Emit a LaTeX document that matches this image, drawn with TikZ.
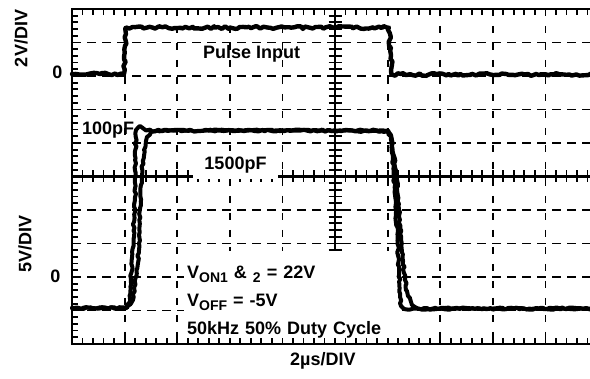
\documentclass[tikz,border=0pt]{standalone}
\usepackage{fontspec}
\setmainfont{Liberation Sans}
\usetikzlibrary{decorations.pathmorphing}
\newcommand{\dsub}[1]{\raisebox{-4.5pt}{\fontsize{14}{14}\selectfont #1}}

\begin{document}
\begin{tikzpicture}[x=1pt,y=-1pt,
	lbl/.style={font=\bfseries\fontsize{18}{28}\selectfont,inner sep=0pt},
	gridh/.style={line width=1.8pt,dash pattern=on 9pt off 6pt},
	gridv/.style={line width=1.8pt,dash pattern=on 7pt off 10pt},
	tickmark/.style={line width=1.8pt},
	border/.style={line width=2.6pt},
	trace/.style={line width=4.4pt,line join=round,line cap=round,decorate,decoration={random steps,segment length=3pt,amplitude=1.4pt}},
	outtrace/.style={line width=4pt,decoration={random steps,segment length=3pt,amplitude=1pt}}]
	\useasboundingbox (0,0) rectangle (590,379);
	\foreach \i in {1,2,3,4,6,7,8,9}
	{
		\draw[gridv] (72+52.6*\i,9) -- (72+52.6*\i,344);
		\draw[gridh] (72,9+33.5*\i) -- (598,9+33.5*\i);
	}
	\foreach \k in {1,...,49}
	{
		\draw[tickmark] (72+10.52*\k,9) -- ++(0,6);
		\draw[tickmark] (72+10.52*\k,344) -- ++(0,-6);
		\draw[tickmark] (72+10.52*\k,170.5) -- ++(0,12);
		\draw[tickmark] (72,9+6.7*\k) -- ++(6,0);
		\draw[tickmark] (598,9+6.7*\k) -- ++(-6,0);
		\draw[tickmark] (328.5,9+6.7*\k) -- ++(13,0);
	}
	\draw[border,line width=2.4pt] (72,176.5) -- (598,176.5);
	\draw[border,line width=2.4pt] (335,9) -- (335,344);
	\draw[border] (72,9) rectangle (598,344);
	\node[lbl,rotate=90] (vdivtop) at (21,38.5) {2V/DIV};
	\node[lbl] (zerotop) at (57.5,72) {0};
	\node[lbl,rotate=90] (vdivbot) at (25,244) {5V/DIV};
	\node[lbl] (zerobot) at (55.3,276) {0};
	\node[lbl,anchor=base west] (pulse) at (203,58.5) {Pulse Input};
	\node[lbl,anchor=base west] (small) at (82,135) {100pF};
	\node[lbl,fill=white,minimum width=85pt,minimum height=28.5pt] (large) at (235.5,165.25) {1500pF};
	\node[lbl,fill=white,anchor=north west,inner xsep=3pt,text width=210pt,align=left] (cond) at (184,251)
		{\rule{0pt}{27pt}V\dsub{ON1} \& \dsub{2} = 22V\\V\dsub{OFF} = -5V\\50kHz 50\% Duty Cycle\rule[-4pt]{0pt}{4pt}};
	\node[lbl,anchor=base west] (tdiv) at (290,366) {2µs/DIV};
	\pgfmathsetseed{11}
	\draw[trace] (72,74) -- (124,74) -- (126,27.5) -- (389,27.5) -- (392,74.5) -- (598,74.5);
	\draw[trace,outtrace] (72,308) -- (126,308) -- (130,302) -- (135,200) -- (136,130) -- (140,126) -- (146,130.5) -- (388,130.5) -- (391,135) -- (393,160) -- (396,210) -- (399,270) -- (401,306) -- (404,309) -- (598,308.5);
	\draw[trace,outtrace] (72,308) -- (127,308) -- (133,300) -- (139,250) -- (141,185) -- (144,150) -- (147,137) -- (151,132) -- (157,130.5) -- (388,131) -- (392,140) -- (397,180) -- (401,240) -- (405,280) -- (408,296) -- (412,305) -- (418,308.5) -- (598,308.5);
\end{tikzpicture}
\end{document}
